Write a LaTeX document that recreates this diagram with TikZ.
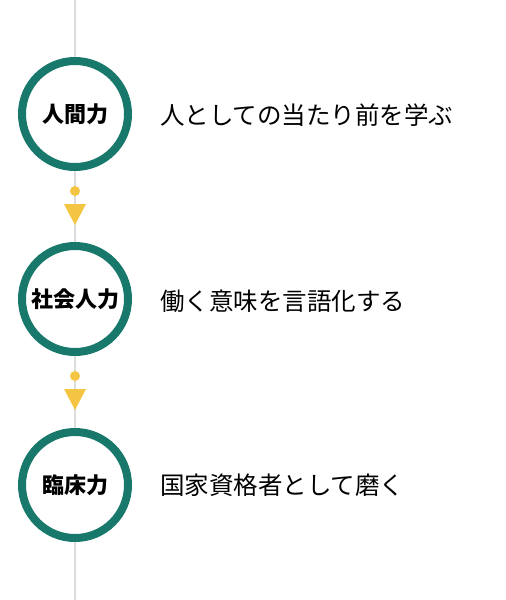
\documentclass[tikz,border=0pt]{standalone}
\usepackage{fontspec}
\usepackage{xcolor}
\usetikzlibrary{calc}
\newfontfamily\jpfont{Noto Sans CJK JP}
\definecolor{stageteal}{HTML}{17786B}
\definecolor{flowyellow}{HTML}{F4C542}
\definecolor{railgray}{HTML}{DCDCDC}

\begin{document}
\begin{tikzpicture}[x=1pt, y=-1pt,
	stage/.style={circle, draw=stageteal, line width=8pt, fill=white, minimum size=106pt, inner sep=0pt, font=\jpfont\bfseries\fontsize{22}{22}\selectfont},
	caption/.style={anchor=west, inner sep=0pt, font=\jpfont\fontsize{24.5}{24.5}\selectfont},
	knob/.style={circle, fill=flowyellow, minimum size=10pt, inner sep=0pt},
	rail/.style={draw=railgray, line width=2.5pt}]
	% Frame:
	\fill[white] (0, 0) rectangle (506, 600);
	\useasboundingbox (0, 0) rectangle (506, 600);
	% Stages and captions:
	\coordinate (top) at (75, 0);
	\coordinate (bottom) at (75, 600);
	\node[stage](S1) at (75, 114){人間力};
	\node[stage](S2) at (75, 299){社会人力};
	\node[stage](S3) at (75, 485){臨床力};
	\node[caption](C1) at (160, 115){人としての当たり前を学ぶ};
	\node[caption](C2) at (160, 301){働く意味を言語化する};
	\node[caption](C3) at (160, 485){国家資格者として磨く};
	% Rail and markers:
	\draw[rail] (top) -- (S1);
	\draw[rail] (S1) -- (S2);
	\draw[rail] (S2) -- (S3);
	\draw[rail] (S3) -- (bottom);
	\foreach \n in {S1, S2}{
		\node[knob] at ($(\n.south)+(0, 20)$){};
		\fill[flowyellow] ($(\n.south)+(-11, 33)$) -- ++(22, 0) -- ++(-11, 21) -- cycle;
	}
\end{tikzpicture}
\end{document}
